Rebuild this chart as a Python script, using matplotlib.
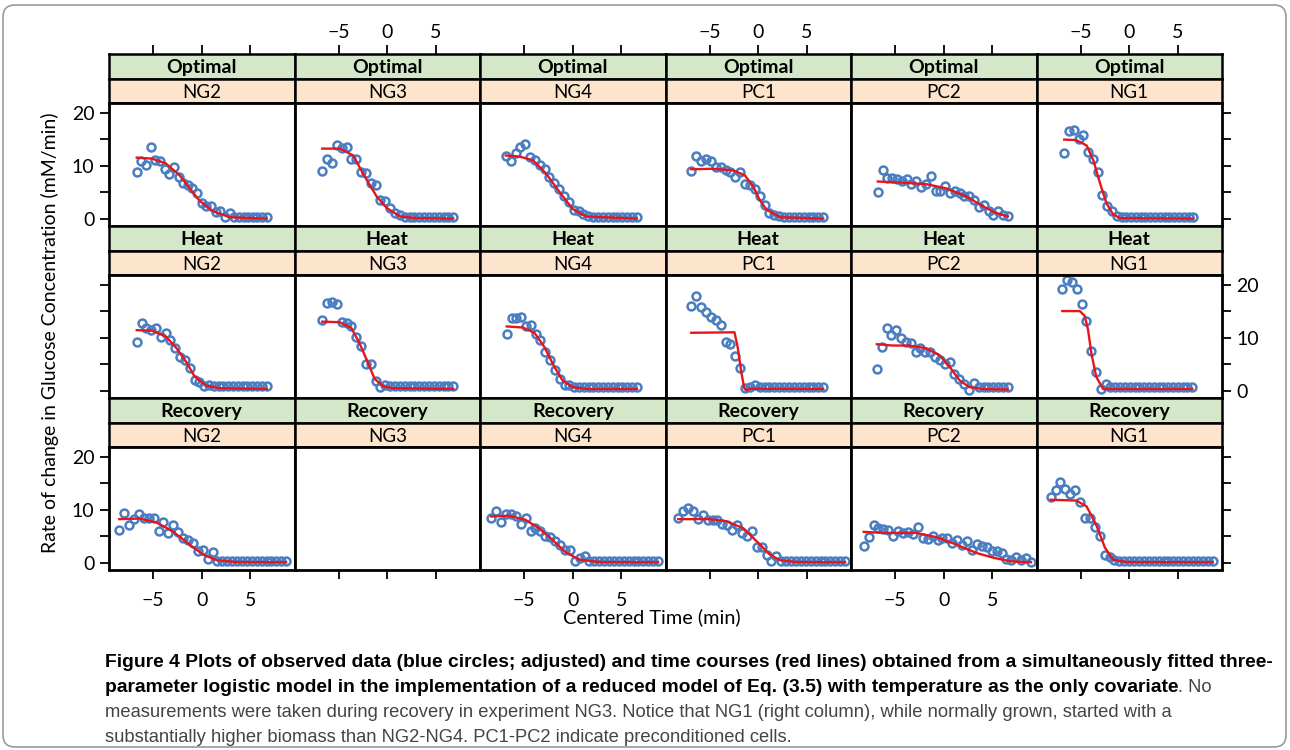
import numpy as np
import matplotlib
matplotlib.use("Agg")
import matplotlib.pyplot as plt
from matplotlib.patches import FancyBboxPatch
from matplotlib.transforms import IdentityTransform

plt.rcParams['font.family'] = ['Lato', 'DejaVu Sans']

conditions = ["Optimal", "Heat", "Recovery"]
experiments = ["NG2", "NG3", "NG4", "PC1", "PC2", "NG1"]
x_ticks = [-5, 0, 5]
y_ticks = [0, 5, 10, 15, 20]
y_tick_labels = ["0", "", "10", "", "20"]

opt_ng2_span = (-6.7, 6.7)
opt_ng2_obs = [8.7, 10.9, 10.1, 13.5, 11.1, 10.8, 9.4, 8.4, 9.7, 7.9, 6.8, 6.3, 5.7, 4.8, 2.9,
               2.3, 2.3, 1.2, 1.5, 0.3, 1.0, 0.3, 0.3, 0.3, 0.3, 0.3, 0.3, 0.3, 0.3]
opt_ng3_span = (-6.7, 6.8)
opt_ng3_obs = [8.9, 11.3, 10.4, 13.9, 13.3, 13.5, 11.2, 11.3, 8.7, 8.6, 6.8, 6.3, 3.5, 3.4, 2.0,
               1.0, 0.6, 0.3, 0.3, 0.3, 0.3, 0.3, 0.3, 0.3, 0.3, 0.3, 0.3, 0.3]
opt_ng4_span = (-6.9, 6.6)
opt_ng4_obs = [11.8, 10.9, 12.4, 13.5, 14.0, 11.6, 11.0, 10.2, 9.3, 7.8, 6.8, 5.6, 4.2, 3.1, 1.7,
               1.5, 0.9, 0.4, 0.35, 0.35, 0.35, 0.35, 0.35, 0.35, 0.35, 0.35, 0.35, 0.35]
opt_pc1_span = (-6.9, 6.7)
opt_pc1_obs = [9.0, 11.8, 10.9, 11.2, 10.9, 9.8, 9.8, 9.1, 8.8, 7.9, 8.8, 6.5, 6.3, 5.6, 4.2,
               2.6, 1.1, 0.7, 0.4, 0.3, 0.3, 0.3, 0.3, 0.3, 0.3, 0.3, 0.3, 0.3]
opt_pc2_span = (-6.8, 6.6)
opt_pc2_obs = [5.1, 9.1, 7.7, 7.6, 7.45, 7.0, 7.4, 6.5, 7.1, 6.0, 6.5, 8.0, 5.3, 5.2, 6.1,
               4.8, 5.3, 4.9, 4.2, 4.3, 3.5, 2.1, 2.6, 1.4, 0.6, 1.4, 0.6, 0.4]
opt_ng1_span = (-6.7, 6.6)
opt_ng1_obs = [12.4, 16.6, 16.8, 15.0, 15.7, 12.5, 11.3, 8.8, 4.5, 2.3, 1.5, 0.4, 0.3, 0.3,
               0.3, 0.3, 0.3, 0.3, 0.3, 0.3, 0.3, 0.3, 0.3, 0.3, 0.3, 0.3, 0.3, 0.3]

heat_ng2_span = (-6.7, 6.7)
heat_ng2_obs = [9.1, 12.8, 11.8, 11.5, 11.8, 10.2, 10.9, 9.5, 8.0, 6.3, 5.8, 4.2, 2.0, 1.6, 0.8,
                1.1, 0.8, 0.8, 0.8, 0.8, 0.8, 0.8, 0.8, 0.8, 0.8, 0.8, 0.8, 0.8]
heat_ng3_span = (-6.7, 6.8)
heat_ng3_obs = [13.4, 16.6, 16.7, 16.4, 13.0, 12.8, 12.1, 10.1, 8.4, 5.0, 5.0, 1.9, 0.6, 1.1, 0.8,
                0.8, 0.8, 0.8, 0.8, 0.8, 0.8, 0.8, 0.8, 0.8, 0.8, 0.8, 0.8, 0.8]
heat_ng4_span = (-6.8, 6.6)
heat_ng4_obs = [10.7, 13.6, 13.6, 13.9, 12.1, 12.3, 10.7, 9.5, 7.2, 5.8, 3.8, 2.2, 1.1, 1.0,
                0.7, 0.7, 0.7, 0.7, 0.7, 0.7, 0.7, 0.7, 0.7, 0.7, 0.7, 0.7, 0.7, 0.7]
heat_pc1_span = (-6.9, 6.7)
heat_pc1_obs = [16.0, 17.8, 15.7, 14.9, 13.9, 13.3, 12.3, 9.1, 8.8, 6.5, 4.2, 0.45, 0.7, 1.15,
                0.7, 0.7, 0.7, 0.7, 0.7, 0.7, 0.7, 0.7, 0.7, 0.7, 0.7, 0.7, 0.7, 0.7]
heat_pc2_span = (-6.9, 6.6)
heat_pc2_obs = [4.0, 8.3, 11.8, 10.4, 11.5, 10.0, 9.1, 8.9, 7.3, 8.1, 7.2, 7.2, 6.4, 5.75, 5.0,
                5.4, 3.1, 2.2, 1.3, 0.2, 1.5, 0.64, 0.6, 0.6, 0.6, 0.6, 0.6, 0.6]
heat_ng1_span = (-6.9, 6.5)
heat_ng1_obs = [19.2, 20.9, 20.4, 19.2, 16.3, 13.1, 7.5, 3.6, 0.3, 1.3, 0.6, 0.6, 0.6, 0.6,
                0.6, 0.6, 0.6, 0.6, 0.6, 0.6, 0.6, 0.6, 0.6, 0.6, 0.6, 0.6, 0.6, 0.6]

rec_ng2_span = (-8.5, 8.7)
rec_ng2_obs = [6.2, 9.3, 7.1, 8.2, 9.15, 8.5, 8.5, 8.4, 6.0, 7.65, 5.6, 7.0, 5.8, 4.6, 4.2, 3.7,
               2.1, 2.3, 0.7, 2.0, 0.25, 0.3, 0.3, 0.3, 0.3, 0.3, 0.3, 0.3, 0.3, 0.3, 0.3, 0.3,
               0.3, 0.3, 0.3]
rec_ng4_span = (-8.4, 8.8)
rec_ng4_obs = [8.5, 9.65, 7.65, 9.15, 9.15, 8.7, 7.3, 8.4, 6.0, 6.6, 5.9, 4.95, 4.8, 4.1, 3.3,
               2.3, 2.3, 0.25, 0.9, 1.2, 0.35, 0.35, 0.35, 0.35, 0.35, 0.35, 0.35, 0.35, 0.35,
               0.35, 0.35, 0.35, 0.35, 0.35, 0.35]
rec_pc1_span = (-8.25, 8.95)
rec_pc1_obs = [8.5, 9.65, 10.3, 9.8, 8.2, 8.9, 8.1, 7.95, 8.1, 7.3, 7.15, 6.2, 7.15, 5.6, 4.95,
               6.0, 2.9, 2.9, 1.5, 0.25, 1.2, 0.25, 0.3, 0.3, 0.3, 0.3, 0.3, 0.3, 0.3, 0.3, 0.3,
               0.3, 0.3, 0.3, 0.3]
rec_pc2_span = (-8.25, 9.0)
rec_pc2_obs = [3.1, 4.8, 7.15, 6.5, 6.3, 6.1, 5.1, 6.0, 5.6, 5.7, 5.3, 6.65, 4.6, 4.5, 4.95, 4.2,
               4.6, 4.6, 3.7, 4.2, 3.4, 4.1, 2.45, 3.6, 3.2, 2.9, 2.1, 2.1, 1.9, 0.7, 0.44, 1.07,
               0.44, 0.88, 0.06]
rec_ng1_span = (-8.1, 8.6)
rec_ng1_obs = [12.3, 13.7, 15.2, 13.9, 12.9, 13.6, 11.5, 8.4, 8.5, 6.8, 5.1, 1.5, 1.0, 0.5, 0.35,
               0.35, 0.35, 0.35, 0.35, 0.35, 0.35, 0.35, 0.35, 0.35, 0.35, 0.35, 0.35, 0.35,
               0.35, 0.35, 0.35, 0.35, 0.35, 0.35]

# fitted logistic time courses, read at a few points along the red lines
opt_ng2_fit_t = [-6.7, -5.1, -3.7, -2.3, -1.1, -0.25, 1.15, 2.9, 6.7]
opt_ng2_fit_v = [11.5, 11.3, 10.4, 8.2, 5.4, 3.4, 1.4, 0.25, 0.0]
opt_ng3_fit_t = [-6.7, -4.9, -3.5, -2.5, -1.1, -0.05, 1.3, 3.0, 6.8]
opt_ng3_fit_v = [13.2, 13.2, 11.9, 8.5, 4.2, 2.0, 0.4, 0.1, 0.0]
opt_ng4_fit_t = [-6.9, -5.5, -4.1, -2.75, -1.4, 0.0, 1.4, 6.6]
opt_ng4_fit_v = [11.9, 11.7, 11.0, 8.5, 5.1, 1.8, 0.4, 0.0]
opt_pc1_fit_t = [-6.9, -4.7, -2.6, -1.4, -0.5, 0.15, 0.85, 2.25, 6.7]
opt_pc1_fit_v = [9.3, 9.4, 9.1, 8.2, 6.0, 3.5, 1.7, 0.25, 0.0]
opt_pc2_fit_t = [-6.8, -4.6, -1.8, 0.25, 2.3, 4.05, 5.4, 6.6]
opt_pc2_fit_v = [7.0, 6.8, 6.5, 5.7, 4.2, 2.3, 1.05, 0.4]
opt_ng1_fit_t = [-6.7, -5.45, -4.4, -3.7, -3.0, -2.35, -1.65, -0.95, 6.6]
opt_ng1_fit_v = [14.9, 14.8, 13.8, 11.0, 6.6, 2.9, 0.75, 0.1, 0.0]

heat_ng2_fit_t = [-6.7, -5.1, -3.7, -2.65, -1.6, -0.75, 0.45, 1.85, 6.7]
heat_ng2_fit_v = [11.4, 11.3, 10.2, 8.1, 5.4, 2.7, 0.95, 0.45, 0.3]
heat_ng3_fit_t = [-6.7, -4.9, -3.7, -2.85, -1.95, -1.3, -0.4, 0.6, 6.8]
heat_ng3_fit_v = [13.0, 12.9, 11.8, 8.9, 5.1, 2.2, 0.8, 0.45, 0.3]
heat_ng4_fit_t = [-6.8, -5.15, -3.95, -2.95, -1.9, -1.05, 0.0, 1.4, 6.6]
heat_ng4_fit_v = [12.1, 11.9, 10.9, 8.3, 4.5, 1.9, 0.65, 0.3, 0.3]
heat_pc1_fit_t = [-6.9, -2.45, -2.1, -1.75, -1.45, -1.25, -0.85, 6.7]
heat_pc1_fit_v = [10.9, 11.0, 8.0, 3.5, 0.5, 0.05, 0.35, 0.3]
heat_pc2_fit_t = [-6.9, -5.3, -3.55, -1.85, -0.45, 0.6, 1.65, 2.65, 4.05, 6.6]
heat_pc2_fit_v = [8.75, 8.5, 8.5, 8.0, 6.7, 4.5, 1.9, 0.65, 0.3, 0.2]
heat_ng1_fit_t = [-6.9, -5.1, -4.6, -4.25, -3.9, -3.4, -2.7, 6.5]
heat_ng1_fit_v = [15.0, 15.0, 14.1, 11.5, 7.0, 2.6, 0.3, 0.3]

rec_ng2_fit_t = [-8.5, -6.45, -4.7, -3.0, -1.25, 0.15, 1.55, 3.6, 8.7]
rec_ng2_fit_v = [8.2, 8.3, 7.6, 5.9, 3.4, 1.5, 0.45, 0.1, 0.05]
rec_ng4_fit_t = [-8.4, -6.6, -4.9, -3.5, -2.1, -0.7, 0.7, 2.8, 8.8]
rec_ng4_fit_v = [8.7, 8.85, 8.1, 6.5, 4.3, 1.9, 0.55, 0.1, 0.05]
rec_pc1_fit_t = [-8.25, -5.05, -3.3, -1.55, -0.15, 1.2, 2.25, 4.0, 8.95]
rec_pc1_fit_v = [8.2, 8.2, 7.8, 6.5, 4.0, 1.5, 0.45, 0.1, 0.05]
rec_pc2_fit_t = [-8.25, -6.35, -2.85, -0.75, 1.3, 3.4, 5.15, 6.9, 9.0]
rec_pc2_fit_v = [5.8, 5.6, 5.6, 4.8, 3.4, 1.8, 0.9, 0.25, 0.05]
rec_ng1_fit_t = [-8.1, -5.45, -4.4, -3.4, -2.5, -1.65, -0.3, 8.6]
rec_ng1_fit_v = [11.85, 11.7, 10.6, 7.1, 2.8, 0.55, 0.1, 0.05]

panels = {
    ("Optimal", "NG2"): (opt_ng2_span, opt_ng2_obs, opt_ng2_fit_t, opt_ng2_fit_v),
    ("Optimal", "NG3"): (opt_ng3_span, opt_ng3_obs, opt_ng3_fit_t, opt_ng3_fit_v),
    ("Optimal", "NG4"): (opt_ng4_span, opt_ng4_obs, opt_ng4_fit_t, opt_ng4_fit_v),
    ("Optimal", "PC1"): (opt_pc1_span, opt_pc1_obs, opt_pc1_fit_t, opt_pc1_fit_v),
    ("Optimal", "PC2"): (opt_pc2_span, opt_pc2_obs, opt_pc2_fit_t, opt_pc2_fit_v),
    ("Optimal", "NG1"): (opt_ng1_span, opt_ng1_obs, opt_ng1_fit_t, opt_ng1_fit_v),
    ("Heat", "NG2"): (heat_ng2_span, heat_ng2_obs, heat_ng2_fit_t, heat_ng2_fit_v),
    ("Heat", "NG3"): (heat_ng3_span, heat_ng3_obs, heat_ng3_fit_t, heat_ng3_fit_v),
    ("Heat", "NG4"): (heat_ng4_span, heat_ng4_obs, heat_ng4_fit_t, heat_ng4_fit_v),
    ("Heat", "PC1"): (heat_pc1_span, heat_pc1_obs, heat_pc1_fit_t, heat_pc1_fit_v),
    ("Heat", "PC2"): (heat_pc2_span, heat_pc2_obs, heat_pc2_fit_t, heat_pc2_fit_v),
    ("Heat", "NG1"): (heat_ng1_span, heat_ng1_obs, heat_ng1_fit_t, heat_ng1_fit_v),
    ("Recovery", "NG2"): (rec_ng2_span, rec_ng2_obs, rec_ng2_fit_t, rec_ng2_fit_v),
    ("Recovery", "NG4"): (rec_ng4_span, rec_ng4_obs, rec_ng4_fit_t, rec_ng4_fit_v),
    ("Recovery", "PC1"): (rec_pc1_span, rec_pc1_obs, rec_pc1_fit_t, rec_pc1_fit_v),
    ("Recovery", "PC2"): (rec_pc2_span, rec_pc2_obs, rec_pc2_fit_t, rec_pc2_fit_v),
    ("Recovery", "NG1"): (rec_ng1_span, rec_ng1_obs, rec_ng1_fit_t, rec_ng1_fit_v),
}

W, H = 1290, 750
fig = plt.figure(figsize=(W / 100, H / 100), dpi=100)

green = '#d4e8c9'
peach = '#fde4cd'
blue = '#4a7ec1'
red = '#e8141c'

left0 = 109
col_w = 185.5
row_tops = [54, 226, 398]
green_h, peach_h, panel_h = 25, 24, 122.5
xlim = (-9.56, 9.56)
ylim = (-1.3, 21.8)


def box(x, y_top, w, h):
    return [x / W, 1 - (y_top + h) / H, w / W, h / H]


def strip(x, y_top, h, color, label, bold):
    sa = fig.add_axes(box(x, y_top, col_w, h))
    sa.set_facecolor(color)
    sa.set_xlim(xlim)
    sa.set_xticks([])
    sa.set_yticks([])
    for s in sa.spines.values():
        s.set_linewidth(1.8)
    sa.text(0.5, 0.45, label, transform=sa.transAxes, ha='center', va='center',
            fontsize=14 if bold else 13.5, fontweight='bold' if bold else 'normal')
    return sa


tick_kw = dict(direction='out', length=6.5, width=1.3, labelsize=14)

for r, cond in enumerate(conditions):
    for c, exp in enumerate(experiments):
        x = left0 + c * col_w
        top = row_tops[r]
        ga = strip(x, top, green_h, green, cond, True)
        strip(x, top + green_h, peach_h, peach, exp, False)

        ax = fig.add_axes(box(x, top + green_h + peach_h, col_w, panel_h))
        ax.set_xlim(xlim)
        ax.set_ylim(ylim)
        for s in ax.spines.values():
            s.set_linewidth(2)

        key = (cond, exp)
        if key in panels:
            span, obs, fit_t, fit_v = panels[key]
            t = np.linspace(span[0], span[1], len(obs))
            ax.plot(fit_t, fit_v, color=red, lw=1.7, zorder=3)
            ax.plot(t, obs, 'o', mfc='none', mec=blue, ms=5.7, mew=1.8, zorder=2)

        # x axis: bottom row carries ticks, labels on alternate columns
        if r == len(conditions) - 1:
            ax.set_xticks(x_ticks)
            ax.tick_params(axis='x', bottom=True, labelbottom=(c % 2 == 0), pad=10, **tick_kw)
        else:
            ax.set_xticks([])
        # top axis sits above the first row of strips
        if r == 0:
            ga.set_xticks(x_ticks)
            ga.tick_params(axis='x', top=True, bottom=False, labeltop=(c % 2 == 1),
                           labelbottom=False, pad=3, **tick_kw)

        # y axis: left on first column, right on last, labels alternate rows
        ax.set_yticks(y_ticks)
        ax.set_yticklabels(y_tick_labels)
        ax.tick_params(axis='y', left=(c == 0), right=(c == len(experiments) - 1),
                       labelleft=(c == 0 and r != 1),
                       labelright=(c == len(experiments) - 1 and r == 1), pad=4, **tick_kw)

fig.text(50 / W, 1 - 333 / H, 'Rate of change in Glucose Concentration (mM/min)',
         rotation=90, ha='center', va='center', fontsize=14)
fig.text(652 / W, 1 - 617 / H, 'Centered Time (min)', ha='center', va='center', fontsize=14.3)

# caption
cap_font = ['Liberation Sans', 'DejaVu Sans']
bold_size = 13.9
reg_size = 13.25
cap_gray = '#444444'
cap_x = 105 / W
line1 = ("Figure 4 Plots of observed data (blue circles; adjusted) and time courses (red lines) "
         "obtained from a simultaneously fitted three-")
line2 = ("parameter logistic model in the implementation of a reduced model of Eq. (3.5) "
         "with temperature as the only covariate")
line3 = ("measurements were taken during recovery in experiment NG3. Notice that NG1 (right column), "
         "while normally grown, started with a")
line4 = "substantially higher biomass than NG2-NG4. PC1-PC2 indicate preconditioned cells."

fig.text(cap_x, 83 / H, line1, fontweight='bold', va='baseline', family=cap_font, fontsize=bold_size)
t2 = fig.text(cap_x, 58 / H, line2, fontweight='bold', va='baseline', family=cap_font,
              fontsize=bold_size)
fig.text(cap_x, 33 / H, line3, va='baseline', family=cap_font, fontsize=reg_size, color=cap_gray)
fig.text(cap_x, 8 / H, line4, va='baseline', family=cap_font, fontsize=reg_size, color=cap_gray)
fig.canvas.draw()
bb = t2.get_window_extent()
fig.text(bb.x1 / W, 58 / H, ". No", va='baseline', family=cap_font, fontsize=reg_size,
         color=cap_gray)

frame = FancyBboxPatch((3, 3), 1283, 742, boxstyle="round,pad=0,rounding_size=12",
                       transform=IdentityTransform(), fill=False, ec='#9a9a9a', lw=1.2)
fig.patches.append(frame)

fig.savefig('out.png', dpi=100)
